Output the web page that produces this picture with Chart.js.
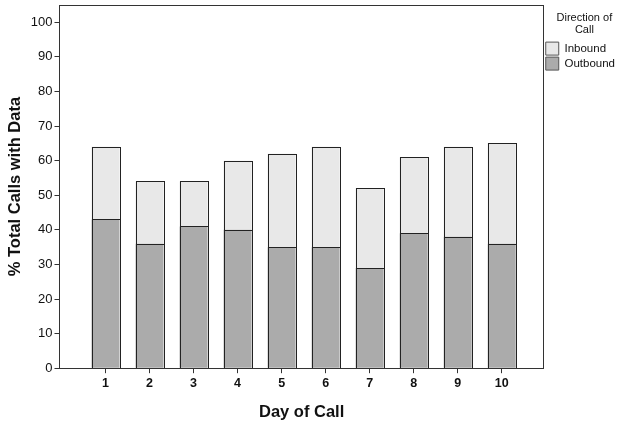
<!DOCTYPE html>
<html>
<head>
<meta charset="utf-8">
<script src="https://cdn.jsdelivr.net/npm/chart.js@4/dist/chart.umd.min.js"></script>
<style>
  html, body { margin: 0; padding: 0; background: #fff; }
  #wrap { width: 622px; height: 423px; }
</style>
</head>
<body>
<div id="wrap"><canvas id="callsChart" width="622" height="423"></canvas></div>
<script>
const days = [1, 2, 3, 4, 5, 6, 7, 8, 9, 10];
const outbound = [43, 36, 41, 40, 35, 35, 29, 39, 38, 36];
const inbound = [21, 18, 13, 20, 27, 29, 23, 22, 26, 29];
const yTicks = [0, 10, 20, 30, 40, 50, 60, 70, 80, 90, 100];

// box round the plot area, like the SPSS frame
const frame = {
    id: 'frame',
    afterDraw(chart) {
        const { ctx, chartArea: a } = chart;
        ctx.save();
        ctx.strokeStyle = '#333';
        ctx.lineWidth = 1;
        ctx.strokeRect(Math.round(a.left) + 0.5, Math.round(a.top) + 0.5,
            Math.round(a.right - a.left), Math.round(a.bottom - a.top));
        ctx.restore();
    }
};

// crisp 1px outlines on every bar segment, taken from the bar elements
const outlines = {
    id: 'outlines',
    afterDatasetsDraw(chart) {
        const ctx = chart.ctx;
        ctx.save();
        ctx.strokeStyle = '#222';
        ctx.lineWidth = 1;
        chart.data.datasets.forEach((ds, i) => {
            chart.getDatasetMeta(i).data.forEach(bar => {
                const { x, y, base, width } = bar.getProps(['x', 'y', 'base', 'width'], true);
                const l = Math.round(x - width / 2), r = Math.round(x + width / 2);
                const t = Math.round(Math.min(y, base)), b = Math.round(Math.max(y, base));
                ctx.strokeRect(l + 0.5, t + 0.5, r - l, b - t);
            });
        });
        ctx.restore();
    }
};

const ctx = document.getElementById('callsChart').getContext('2d');
new Chart(ctx, {
    type: 'bar',
    data: {
        datasets: [{
            label: 'Outbound',
            data: days.map((d, i) => ({ x: d, y: outbound[i] })),
            backgroundColor: '#ababab',
            borderWidth: 0
        }, {
            label: 'Inbound',
            data: days.map((d, i) => ({ x: d, y: inbound[i] })),
            backgroundColor: '#e8e8e8',
            borderWidth: 0
        }]
    },
    options: {
        responsive: false,
        animation: false,
        barPercentage: 28 / 44,
        categoryPercentage: 1,
        layout: { padding: { left: 6, top: 5, right: -3, bottom: 1 } },
        plugins: {
            tooltip: { enabled: false },
            legend: {
                position: 'right',
                align: 'start',
                reverse: true,
                title: {
                    display: true,
                    text: ['Direction of', 'Call'],
                    color: '#111',
                    font: { family: 'Liberation Sans', size: 11, lineHeight: 1.1 },
                    padding: { top: 7, bottom: 16 }
                },
                labels: {
                    boxWidth: 13,
                    boxHeight: 13,
                    padding: 2,
                    color: '#111',
                    font: { family: 'Liberation Sans', size: 11.5 },
                    generateLabels: chart => Chart.defaults.plugins.legend.labels.generateLabels(chart)
                        .map(item => Object.assign(item, { lineWidth: 1, strokeStyle: '#555' }))
                }
            }
        },
        scales: {
            x: {
                type: 'linear',
                stacked: true,
                offset: false,
                min: -1 / 22,
                max: 11 - 1 / 22,
                afterBuildTicks: axis => {
                    axis.ticks = days.map(d => ({ value: d }));
                },
                border: { display: true, color: '#333' },
                grid: { offset: false, drawOnChartArea: false, drawTicks: true, tickLength: 5, color: '#333' },
                ticks: {
                    color: '#111',
                    padding: 3,
                    font: { family: 'Liberation Sans', size: 12.5, weight: 'bold' }
                },
                title: {
                    display: true,
                    text: 'Day of Call',
                    color: '#111',
                    padding: { top: 8, bottom: 0 },
                    font: { family: 'Liberation Sans', size: 16.5, weight: 'bold' }
                }
            },
            y: {
                stacked: true,
                min: 0,
                max: 105,
                afterBuildTicks: axis => {
                    axis.ticks = yTicks.map(v => ({ value: v }));
                },
                // top tick is 100, not the axis end, so no room is needed for its label
                afterFit: axis => { axis.paddingTop = 0; },
                border: { display: true, color: '#333' },
                grid: { drawOnChartArea: false, drawTicks: true, tickLength: 5, color: '#333' },
                ticks: {
                    color: '#111',
                    padding: 2,
                    font: { family: 'Liberation Sans', size: 13 }
                },
                title: {
                    display: true,
                    text: '% Total Calls with Data',
                    color: '#111',
                    padding: { top: 0, bottom: 3 },
                    font: { family: 'Liberation Sans', size: 16.5, weight: 'bold' }
                }
            }
        }
    },
    plugins: [frame, outlines]
});
</script>
</body>
</html>
